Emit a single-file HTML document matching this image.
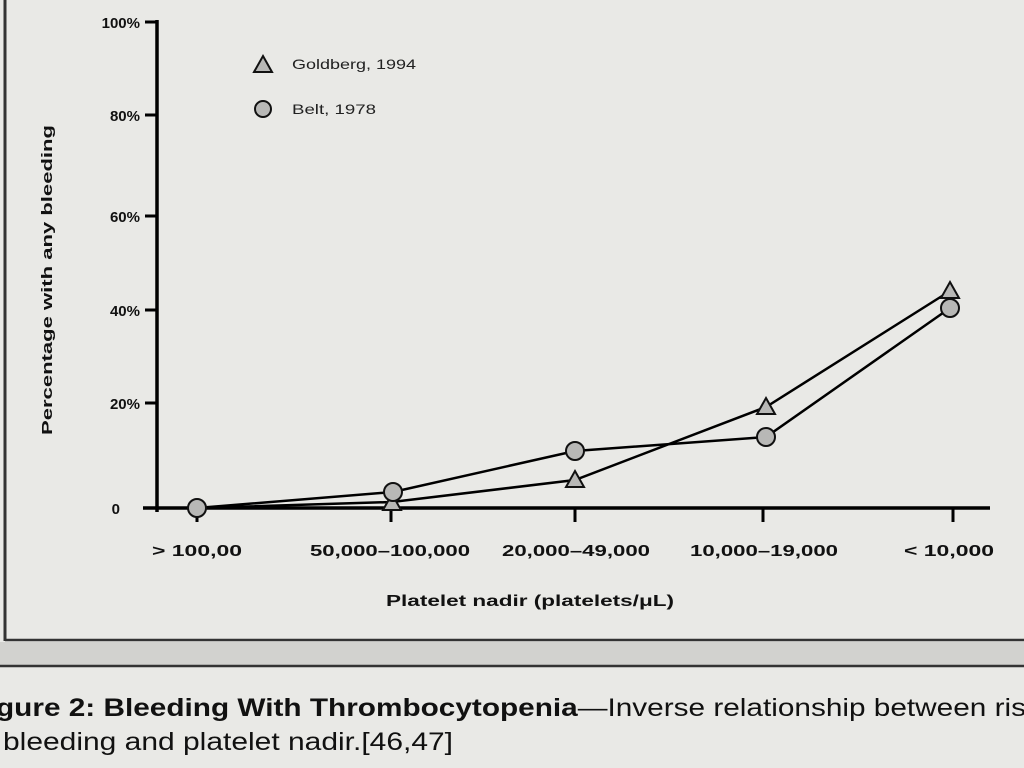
<!DOCTYPE html>
<html><head><meta charset="utf-8"><style>
html,body{margin:0;padding:0;background:#e9e9e6;}
body{width:1024px;height:768px;overflow:hidden;position:relative;font-family:"Liberation Sans",Arial,sans-serif;}
</style></head><body>
<svg width="1024" height="768" viewBox="0 0 1024 768" xmlns="http://www.w3.org/2000/svg" style="position:absolute;left:0;top:0">
<rect x="0" y="0" width="1024" height="768" fill="#e9e9e6"/>
<rect x="0" y="642" width="1024" height="24" fill="#d2d2cf"/>
<line x1="5" y1="0" x2="5" y2="641" stroke="#333" stroke-width="3"/>
<line x1="5" y1="640" x2="1024" y2="640" stroke="#333" stroke-width="2.5"/>
<line x1="0" y1="666" x2="1024" y2="666" stroke="#333" stroke-width="2.5"/>
<g stroke="#000" stroke-width="3.5" fill="none">
<line x1="157" y1="20" x2="157" y2="512"/>
<line x1="143" y1="508" x2="990" y2="508"/>
</g>
<g stroke="#000" stroke-width="3">
<line x1="145" y1="22" x2="157" y2="22"/>
<line x1="145" y1="115" x2="157" y2="115"/>
<line x1="145" y1="216" x2="157" y2="216"/>
<line x1="145" y1="310" x2="157" y2="310"/>
<line x1="145" y1="403" x2="157" y2="403"/>
<line x1="197" y1="508" x2="197" y2="522"/>
<line x1="391" y1="508" x2="391" y2="522"/>
<line x1="575" y1="508" x2="575" y2="522"/>
<line x1="763" y1="508" x2="763" y2="522"/>
<line x1="953" y1="508" x2="953" y2="522"/>
</g>
<g font-size="15" font-weight="bold" fill="#111" text-anchor="end">
<text x="140" y="28">100%</text>
<text x="140" y="121">80%</text>
<text x="140" y="222">60%</text>
<text x="140" y="316">40%</text>
<text x="140" y="409">20%</text>
<text x="120" y="514">0</text>
</g>
<text transform="translate(52,280) rotate(-90)" font-size="15" font-weight="bold" fill="#111" text-anchor="middle" textLength="310" lengthAdjust="spacingAndGlyphs">Percentage with any bleeding</text>
<g font-size="16" font-weight="bold" fill="#111">
<text x="152" y="556" textLength="90" lengthAdjust="spacingAndGlyphs">&gt; 100,00</text>
<text x="310" y="556" textLength="160" lengthAdjust="spacingAndGlyphs">50,000–100,000</text>
<text x="502" y="556" textLength="148" lengthAdjust="spacingAndGlyphs">20,000–49,000</text>
<text x="690" y="556" textLength="148" lengthAdjust="spacingAndGlyphs">10,000–19,000</text>
<text x="904" y="556" textLength="90" lengthAdjust="spacingAndGlyphs">&lt; 10,000</text>
<text x="386" y="606" textLength="288" lengthAdjust="spacingAndGlyphs">Platelet nadir (platelets/μL)</text>
</g>
<g stroke="#000" stroke-width="2.5" fill="none">
<polyline points="197,508 392,502 575,480 766,407 950,291"/>
<polyline points="197,508 393,492 575,451 766,437 950,308"/>
</g>
<g fill="#b8b8b6" stroke="#111" stroke-width="2">
<polygon points="392,494 401,510 383,510"/>
<polygon points="575,471 584,487 566,487"/>
<polygon points="766,398 775,414 757,414"/>
<polygon points="950,282 959,298 941,298"/>
<circle cx="197" cy="508" r="9"/>
<circle cx="393" cy="492" r="9"/>
<circle cx="575" cy="451" r="9"/>
<circle cx="766" cy="437" r="9"/>
<circle cx="950" cy="308" r="9"/>
<polygon points="263,56 272,72 254,72"/>
<circle cx="263" cy="109" r="8"/>
</g>
<g font-size="14" fill="#222">
<text x="292" y="69" textLength="124" lengthAdjust="spacingAndGlyphs">Goldberg, 1994</text>
<text x="292" y="114" textLength="84" lengthAdjust="spacingAndGlyphs">Belt, 1978</text>
</g>
<text x="-4" y="716" font-size="25" fill="#111" textLength="1030" lengthAdjust="spacingAndGlyphs"><tspan font-weight="bold">gure 2: Bleeding With Thrombocytopenia</tspan>—Inverse relationship between ris</text>
<text x="3" y="750" font-size="25" fill="#111" textLength="450" lengthAdjust="spacingAndGlyphs">bleeding and platelet nadir.[46,47]</text>
</svg>
</body></html>
